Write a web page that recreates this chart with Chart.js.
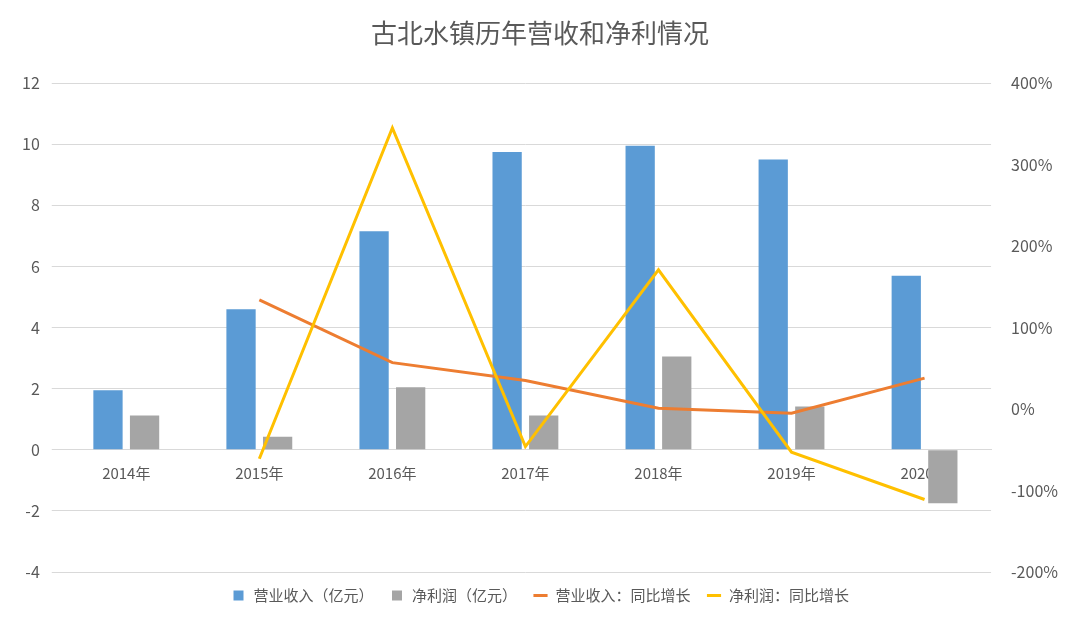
<!DOCTYPE html>
<html><head><meta charset="utf-8">
<script src="https://cdn.jsdelivr.net/npm/chart.js@4"></script>
<style>html,body{margin:0;background:#fff}#wrap{width:1080px;height:637px}</style>
</head><body><div id="wrap"><canvas id="c"></canvas></div>
<script>
const years = ['2014年','2015年','2016年','2017年','2018年','2019年','2020年'];
const revenue = [1.95, 4.6, 7.15, 9.75, 9.95, 9.5, 5.7];
const netProfit = [1.12, 0.43, 2.05, 1.12, 3.05, 1.42, -1.75];
const revenueGrowth = [null, 134, 57, 35, 1, -5, 38];
const profitGrowth = [null, -61, 345, -46, 171, -53, -111];

const font = "'Noto Sans CJK SC', 'Noto Sans', sans-serif";
Chart.defaults.font.family = font;
Chart.defaults.color = '#595959';

new Chart(document.getElementById('c'), {
    data: {
        labels: years,
        datasets: [
            { type: 'bar', label: '营业收入（亿元）', data: revenue, backgroundColor: '#5b9bd5', yAxisID: 'y', order: 2, barPercentage: 0.8, categoryPercentage: 0.55, pointStyle: 'rect' },
            { type: 'bar', label: '净利润（亿元）', data: netProfit, backgroundColor: '#a5a5a5', yAxisID: 'y', order: 2, barPercentage: 0.8, categoryPercentage: 0.55, pointStyle: 'rect' },
            { type: 'line', label: '营业收入：同比增长', data: revenueGrowth, borderColor: '#ed7d31', backgroundColor: '#ed7d31', borderWidth: 3, pointRadius: 0, yAxisID: 'y2', order: 1, pointStyle: 'line' },
            { type: 'line', label: '净利润：同比增长', data: profitGrowth, borderColor: '#ffc000', backgroundColor: '#ffc000', borderWidth: 3, pointRadius: 0, yAxisID: 'y2', order: 0, pointStyle: 'line' }
        ]
    },
    options: {
        responsive: true,
        maintainAspectRatio: false,
        animation: false,
        layout: { padding: { left: 10, right: 10, top: 10, bottom: 2 } },
        plugins: {
            title: { display: true, text: '古北水镇历年营收和净利情况', font: { size: 26, weight: 'normal' }, color: '#595959', padding: { top: 8, bottom: 34 } },
            legend: { position: 'bottom', labels: { usePointStyle: true, sort: (a, b) => a.datasetIndex - b.datasetIndex, font: { size: 15 }, boxWidth: 40, boxHeight: 10, padding: 16 } },
            tooltip: { enabled: false }
        },
        scales: {
            x: { position: { y: 0 }, grid: { display: false }, border: { color: '#d9d9d9' }, ticks: { font: { size: 15 }, padding: 6 } },
            y: { min: -4, max: 12, ticks: { stepSize: 2, font: { size: 16 }, padding: 12 }, grid: { color: '#d9d9d9' }, border: { display: false }, afterFit: s => { s.paddingBottom = 0; } },
            y2: { position: 'right', min: -200, max: 400, ticks: { stepSize: 100, font: { size: 16 }, padding: 12, callback: v => v + '%' }, grid: { display: false }, border: { display: false } }
        }
    },
    plugins: [{
        id: 'legendGap',
        beforeInit(chart) {
            const fit = chart.legend.fit;
            chart.legend.fit = function () { fit.call(this); this.height += 22; };
        }
    }]
});
</script></body></html>
